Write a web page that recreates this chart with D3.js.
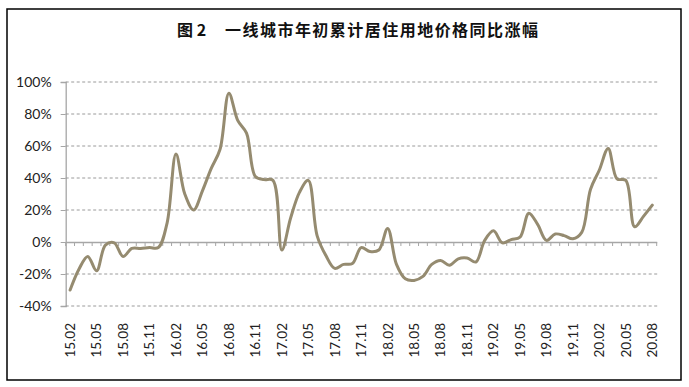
<!DOCTYPE html>
<html>
<head>
<meta charset="utf-8">
<script src="https://cdn.jsdelivr.net/npm/d3@7"></script>
<style>
  html, body { margin: 0; padding: 0; background: #fff; }
  svg { display: block; }
</style>
</head>
<body>
<svg id="chart" width="689" height="387"></svg>
<script>
// ---- data ----
const titleNo = "图 2";
const titleText = "一线城市年初累计居住用地价格同比涨幅";
const months = [
  "15.02","15.03","15.04","15.05","15.06","15.07","15.08","15.09","15.10","15.11","15.12",
  "16.01","16.02","16.03","16.04","16.05","16.06","16.07","16.08","16.09","16.10","16.11","16.12",
  "17.01","17.02","17.03","17.04","17.05","17.06","17.07","17.08","17.09","17.10","17.11","17.12",
  "18.01","18.02","18.03","18.04","18.05","18.06","18.07","18.08","18.09","18.10","18.11","18.12",
  "19.01","19.02","19.03","19.04","19.05","19.06","19.07","19.08","19.09","19.10","19.11","19.12",
  "20.01","20.02","20.03","20.04","20.05","20.06","20.07","20.08"
];
const values = [
  -30, -17, -9, -18, -2, -0.5, -9, -4, -4, -3.5, -3.5,
  12, 55, 30, 20, 32, 46, 58, 93, 76, 68, 41, 39,
  38.5, -5, 15, 31, 38.5, 4, -8.5, -16.5, -14, -13.5, -3.5, -6,
  -5, 8.5, -14, -23, -24, -21.5, -14, -11.5, -14.5, -10.5, -10, -12.5,
  1, 7, -0.5, 1.5, 3, 18, 11, 1, 5, 4, 2, 6,
  33, 45, 58.5, 39.5, 38.5, 9.5, 16, 23
];
const tickLabels = ["15.02","15.05","15.08","15.11","16.02","16.05","16.08","16.11","17.02","17.05","17.08","17.11",
  "18.02","18.05","18.08","18.11","19.02","19.05","19.08","19.11","20.02","20.05","20.08"];
const yTicks = [-40, -20, 0, 20, 40, 60, 80, 100];

// ---- layout ----
const svg = d3.select("#chart");
const plotLeft = 65.7, plotRight = 656.7, plotTop = 82, plotBottom = 306;

const x = d3.scaleBand().domain(months).range([plotLeft, plotRight]).paddingInner(0).paddingOuter(0);
const y = d3.scaleLinear().domain([-40, 100]).range([plotBottom, plotTop]);
const cx = m => x(m) + x.bandwidth() / 2;

// frame
svg.append("rect").attr("x", 7).attr("y", 9).attr("width", 674).attr("height", 371)
  .attr("fill", "none").attr("stroke", "#000").attr("stroke-width", 1.5);

// title
svg.append("text").attr("x", 177).attr("y", 36)
  .attr("font-family", "'Noto Sans CJK SC', sans-serif").attr("font-weight", "bold")
  .attr("font-size", 16).attr("fill", "#111").text(titleNo);
svg.append("text").attr("x", 225).attr("y", 36)
  .attr("font-family", "'Noto Sans CJK SC', sans-serif").attr("font-weight", "bold")
  .attr("font-size", 16).attr("fill", "#111")
  .attr("textLength", 313).attr("lengthAdjust", "spacing").text(titleText);

// y axis
const yAxis = d3.axisLeft(y).tickValues(yTicks).tickFormat(d => d + "%").tickSize(5).tickPadding(9);
const gy = svg.append("g").attr("transform", `translate(${plotLeft},0)`).call(yAxis);
gy.select(".domain").attr("stroke", "#a6a6a6").attr("stroke-width", 1.3);
gy.selectAll(".tick line").attr("stroke", "#a6a6a6");
gy.selectAll(".tick text").attr("font-family", "Lato, sans-serif").attr("font-size", 14).attr("fill", "#222");

// dashed gridlines
svg.append("g").selectAll("line").data(yTicks.filter(d => d !== 0)).join("line")
  .attr("x1", plotLeft).attr("x2", plotRight + 1)
  .attr("y1", d => y(d)).attr("y2", d => y(d))
  .attr("stroke", "#9a9a9a").attr("stroke-width", 1).attr("stroke-dasharray", "3,2.5");

// zero axis with category ticks
const xAxis = d3.axisBottom(x).tickValues([]).tickSizeOuter(0);
const gx = svg.append("g").attr("transform", `translate(0,${y(0)})`).call(xAxis);
gx.select(".domain").attr("stroke", "#a6a6a6").attr("stroke-width", 1.3);
const bounds = months.map(m => x(m)).concat([x(months[months.length - 1]) + x.bandwidth()]);
gx.selectAll("line.cat").data(bounds).join("line").attr("class", "cat")
  .attr("x1", d => d).attr("x2", d => d).attr("y1", 0).attr("y2", 4)
  .attr("stroke", "#a6a6a6").attr("stroke-width", 1);

// x labels (rotated)
svg.append("g").selectAll("text").data(tickLabels).join("text")
  .attr("transform", d => `translate(${cx(d)},323) rotate(-90)`)
  .attr("text-anchor", "end").attr("dy", "0.36em")
  .attr("font-family", "Lato, sans-serif").attr("font-size", 13.5).attr("fill", "#222")
  .text(d => d);

// line
const line = d3.line().x((d, i) => cx(months[i])).y(d => y(d)).curve(d3.curveCatmullRom.alpha(0.5));
svg.append("path").datum(values).attr("d", line)
  .attr("fill", "none").attr("stroke", "#958b70").attr("stroke-width", 3)
  .attr("stroke-linejoin", "round").attr("stroke-linecap", "round");
</script>
</body>
</html>
